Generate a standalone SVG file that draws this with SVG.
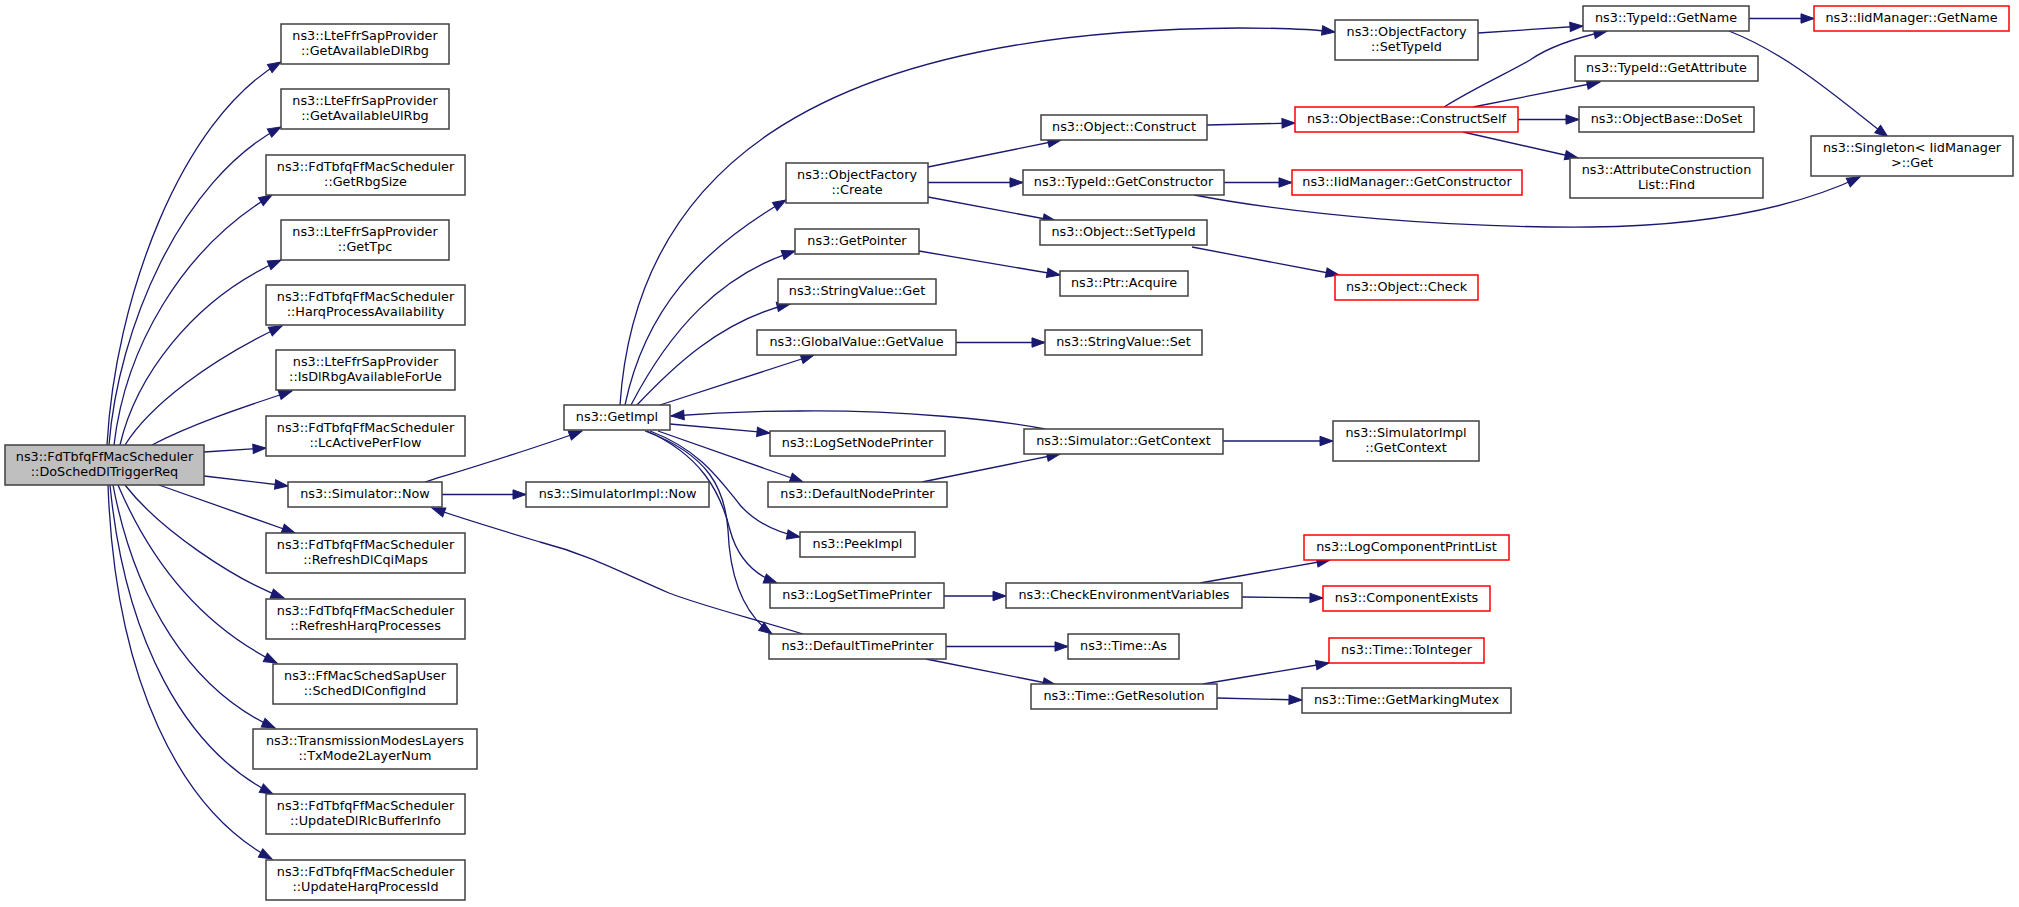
<svg xmlns="http://www.w3.org/2000/svg" width="2019" height="907" viewBox="0 0 2019 907">
<style>
.n rect{fill:#ffffff;stroke:#404040;stroke-width:1.5}
.r rect{fill:#ffffff;stroke:#ff0000;stroke-width:1.5}
.m rect{fill:#bfbfbf;stroke:#404040;stroke-width:1.5}
text{font-family:"DejaVu Sans",Verdana,sans-serif;font-size:12.8px;fill:#000000;text-anchor:middle}
#edges path{fill:none;stroke:#191970;stroke-width:1.3;marker-end:url(#ah)}
</style>
<defs>
<marker id="ah" markerWidth="14" markerHeight="10" refX="13" refY="4.7" orient="auto" markerUnits="userSpaceOnUse" overflow="visible">
<path d="M0,0 L13,4.7 L0,9.4 z" fill="#191970" stroke="#191970" stroke-width="1"/>
</marker>
</defs>
<rect width="2019" height="907" fill="#ffffff"/>
<g id="edges">
<path d="M107,445 C115,300 180,120 281,62"/>
<path d="M109,445 C118,330 180,180 281,127"/>
<path d="M114,445 C125,350 180,250 272,195"/>
<path d="M120,445 C135,380 190,300 281,260"/>
<path d="M125,445 C150,405 210,360 282,326"/>
<path d="M152,445 C190,425 240,408 292,391"/>
<path d="M204,452 L266,448"/>
<path d="M204,476 L288,486"/>
<path d="M159,485 L295,533"/>
<path d="M125,485 C160,530 235,580 284,598"/>
<path d="M118,485 C150,560 200,625 277,663"/>
<path d="M113,485 C135,600 190,690 275,728"/>
<path d="M110,485 C125,640 185,750 273,794"/>
<path d="M108,485 C115,680 180,810 272,859"/>
<path d="M425,482 C480,465 530,450 582,431"/>
<path d="M442,494.5 L526,494.5"/>
<path d="M803,634 C740,615 700,605 669,593 C620,572 590,555 540,542 C500,530 460,518 432,508"/>
<path d="M620,405 C635,180 800,30 1240,28 C1280,28 1310,29 1335,32"/>
<path d="M625,405 C645,310 700,250 786,200"/>
<path d="M631,405 C670,330 720,275 795,251"/>
<path d="M636,406 C670,370 720,320 790,304"/>
<path d="M660,405 L814,355"/>
<path d="M670,424 L770,433"/>
<path d="M658,431 L803,482"/>
<path d="M650,431 C700,450 720,480 740,505 C755,522 775,532 800,537"/>
<path d="M647,431 C700,455 720,490 730,530 C738,560 755,575 777,583"/>
<path d="M645,431 C710,455 725,490 728,530 C730,580 745,615 772,634"/>
<path d="M1045,429 C1000,420 900,410 800,411 C750,411 710,413 671,416"/>
<path d="M922,482 L1060,454"/>
<path d="M1223,441 L1333,441"/>
<path d="M928,167 L1061,140"/>
<path d="M928,182.5 L1023,182.5"/>
<path d="M928,197 L1056,221"/>
<path d="M919,251 L1060,275"/>
<path d="M956,342.5 L1045,342.5"/>
<path d="M944,596 L1006,596"/>
<path d="M946,646.5 L1068,646.5"/>
<path d="M926,659 L1056,685"/>
<path d="M1207,125 L1295,123"/>
<path d="M1224,182.5 L1292,182.5"/>
<path d="M1194,195 C1300,215 1450,228 1590,227 C1700,226 1790,210 1860,177"/>
<path d="M1192,247 L1339,275"/>
<path d="M1478,33 L1583,26"/>
<path d="M1444,107 C1480,85 1510,72 1530,60 C1550,46 1575,38 1607,31"/>
<path d="M1473,107 L1600,82"/>
<path d="M1518,119.5 L1579,119.5"/>
<path d="M1463,132 L1578,158"/>
<path d="M1749,18.5 L1814,18.5"/>
<path d="M1729,31 C1790,55 1840,100 1888,137"/>
<path d="M1200,583 L1330,560"/>
<path d="M1242,597 L1323,598"/>
<path d="M1203,684 L1329,663"/>
<path d="M1217,698 L1302,700"/>
</g>
<g id="main" class="m"><rect x="5" y="445" width="199" height="40"/><text x="104.5" y="461">ns3::FdTbfqFfMacScheduler</text><text x="104.5" y="476">::DoSchedDlTriggerReq</text></g>
<g id="n1" class="n"><rect x="281" y="24" width="168" height="40"/><text x="365" y="40">ns3::LteFfrSapProvider</text><text x="365" y="55">::GetAvailableDlRbg</text></g>
<g id="n2" class="n"><rect x="281" y="89" width="168" height="40"/><text x="365" y="105">ns3::LteFfrSapProvider</text><text x="365" y="120">::GetAvailableUlRbg</text></g>
<g id="n3" class="n"><rect x="266" y="155" width="199" height="40"/><text x="365.5" y="171">ns3::FdTbfqFfMacScheduler</text><text x="365.5" y="186">::GetRbgSize</text></g>
<g id="n4" class="n"><rect x="281" y="220" width="168" height="40"/><text x="365" y="236">ns3::LteFfrSapProvider</text><text x="365" y="251">::GetTpc</text></g>
<g id="n5" class="n"><rect x="266" y="285" width="199" height="40"/><text x="365.5" y="301">ns3::FdTbfqFfMacScheduler</text><text x="365.5" y="316">::HarqProcessAvailability</text></g>
<g id="n6" class="n"><rect x="276" y="350" width="179" height="40"/><text x="365.5" y="366">ns3::LteFfrSapProvider</text><text x="365.5" y="381">::IsDlRbgAvailableForUe</text></g>
<g id="n7" class="n"><rect x="266" y="416" width="199" height="40"/><text x="365.5" y="432">ns3::FdTbfqFfMacScheduler</text><text x="365.5" y="447">::LcActivePerFlow</text></g>
<g id="n8" class="n"><rect x="288" y="482" width="154" height="25"/><text x="365" y="498">ns3::Simulator::Now</text></g>
<g id="n9" class="n"><rect x="266" y="533" width="199" height="40"/><text x="365.5" y="549">ns3::FdTbfqFfMacScheduler</text><text x="365.5" y="564">::RefreshDlCqiMaps</text></g>
<g id="n10" class="n"><rect x="266" y="599" width="199" height="40"/><text x="365.5" y="615">ns3::FdTbfqFfMacScheduler</text><text x="365.5" y="630">::RefreshHarqProcesses</text></g>
<g id="n11" class="n"><rect x="273" y="664" width="184" height="40"/><text x="365" y="680">ns3::FfMacSchedSapUser</text><text x="365" y="695">::SchedDlConfigInd</text></g>
<g id="n12" class="n"><rect x="253" y="729" width="224" height="40"/><text x="365" y="745">ns3::TransmissionModesLayers</text><text x="365" y="760">::TxMode2LayerNum</text></g>
<g id="n13" class="n"><rect x="266" y="794" width="199" height="40"/><text x="365.5" y="810">ns3::FdTbfqFfMacScheduler</text><text x="365.5" y="825">::UpdateDlRlcBufferInfo</text></g>
<g id="n14" class="n"><rect x="266" y="860" width="199" height="40"/><text x="365.5" y="876">ns3::FdTbfqFfMacScheduler</text><text x="365.5" y="891">::UpdateHarqProcessId</text></g>
<g id="n15" class="n"><rect x="526" y="482" width="183" height="25"/><text x="617.5" y="498">ns3::SimulatorImpl::Now</text></g>
<g id="n16" class="n"><rect x="564" y="405" width="106" height="25"/><text x="617" y="421">ns3::GetImpl</text></g>
<g id="n17" class="n"><rect x="786" y="163" width="142" height="40"/><text x="857" y="179">ns3::ObjectFactory</text><text x="857" y="194">::Create</text></g>
<g id="n18" class="n"><rect x="795" y="229" width="124" height="25"/><text x="857" y="245">ns3::GetPointer</text></g>
<g id="n19" class="n"><rect x="778" y="279" width="158" height="25"/><text x="857" y="295">ns3::StringValue::Get</text></g>
<g id="n20" class="n"><rect x="757" y="330" width="199" height="25"/><text x="856.5" y="346">ns3::GlobalValue::GetValue</text></g>
<g id="n21" class="n"><rect x="770" y="431" width="175" height="25"/><text x="857.5" y="447">ns3::LogSetNodePrinter</text></g>
<g id="n22" class="n"><rect x="768" y="482" width="179" height="25"/><text x="857.5" y="498">ns3::DefaultNodePrinter</text></g>
<g id="n23" class="n"><rect x="800" y="532" width="115" height="25"/><text x="857.5" y="548">ns3::PeekImpl</text></g>
<g id="n24" class="n"><rect x="770" y="583" width="174" height="25"/><text x="857" y="599">ns3::LogSetTimePrinter</text></g>
<g id="n25" class="n"><rect x="769" y="634" width="177" height="25"/><text x="857.5" y="650">ns3::DefaultTimePrinter</text></g>
<g id="n26" class="n"><rect x="1041" y="115" width="166" height="25"/><text x="1124" y="131">ns3::Object::Construct</text></g>
<g id="n27" class="n"><rect x="1023" y="170" width="201" height="25"/><text x="1123.5" y="186">ns3::TypeId::GetConstructor</text></g>
<g id="n28" class="n"><rect x="1040" y="220" width="167" height="25"/><text x="1123.5" y="236">ns3::Object::SetTypeId</text></g>
<g id="n29" class="n"><rect x="1060" y="271" width="128" height="25"/><text x="1124" y="287">ns3::Ptr::Acquire</text></g>
<g id="n30" class="n"><rect x="1045" y="330" width="157" height="25"/><text x="1123.5" y="346">ns3::StringValue::Set</text></g>
<g id="n31" class="n"><rect x="1024" y="429" width="199" height="25"/><text x="1123.5" y="445">ns3::Simulator::GetContext</text></g>
<g id="n32" class="n"><rect x="1006" y="583" width="236" height="25"/><text x="1124" y="599">ns3::CheckEnvironmentVariables</text></g>
<g id="n33" class="n"><rect x="1068" y="634" width="111" height="25"/><text x="1123.5" y="650">ns3::Time::As</text></g>
<g id="n34" class="n"><rect x="1031" y="684" width="186" height="25"/><text x="1124" y="700">ns3::Time::GetResolution</text></g>
<g id="n35" class="n"><rect x="1335" y="20" width="143" height="40"/><text x="1406.5" y="36">ns3::ObjectFactory</text><text x="1406.5" y="51">::SetTypeId</text></g>
<g id="n36" class="r"><rect x="1295" y="107" width="223" height="25"/><text x="1406.5" y="123">ns3::ObjectBase::ConstructSelf</text></g>
<g id="n37" class="r"><rect x="1292" y="170" width="230" height="25"/><text x="1407" y="186">ns3::IidManager::GetConstructor</text></g>
<g id="n38" class="r"><rect x="1335" y="275" width="143" height="25"/><text x="1406.5" y="291">ns3::Object::Check</text></g>
<g id="n39" class="n"><rect x="1333" y="421" width="146" height="40"/><text x="1406" y="437">ns3::SimulatorImpl</text><text x="1406" y="452">::GetContext</text></g>
<g id="n40" class="r"><rect x="1304" y="535" width="205" height="25"/><text x="1406.5" y="551">ns3::LogComponentPrintList</text></g>
<g id="n41" class="r"><rect x="1323" y="586" width="167" height="25"/><text x="1406.5" y="602">ns3::ComponentExists</text></g>
<g id="n42" class="r"><rect x="1329" y="638" width="155" height="25"/><text x="1406.5" y="654">ns3::Time::ToInteger</text></g>
<g id="n43" class="n"><rect x="1302" y="688" width="209" height="25"/><text x="1406.5" y="704">ns3::Time::GetMarkingMutex</text></g>
<g id="n44" class="n"><rect x="1583" y="6" width="166" height="25"/><text x="1666" y="22">ns3::TypeId::GetName</text></g>
<g id="n45" class="n"><rect x="1575" y="56" width="183" height="25"/><text x="1666.5" y="72">ns3::TypeId::GetAttribute</text></g>
<g id="n46" class="n"><rect x="1579" y="107" width="175" height="25"/><text x="1666.5" y="123">ns3::ObjectBase::DoSet</text></g>
<g id="n47" class="n"><rect x="1570" y="158" width="193" height="40"/><text x="1666.5" y="174">ns3::AttributeConstruction</text><text x="1666.5" y="189">List::Find</text></g>
<g id="n48" class="r"><rect x="1814" y="6" width="195" height="25"/><text x="1911.5" y="22">ns3::IidManager::GetName</text></g>
<g id="n49" class="n"><rect x="1811" y="136" width="202" height="40"/><text x="1912" y="152">ns3::Singleton&lt; IidManager</text><text x="1912" y="167">&gt;::Get</text></g>
</svg>
